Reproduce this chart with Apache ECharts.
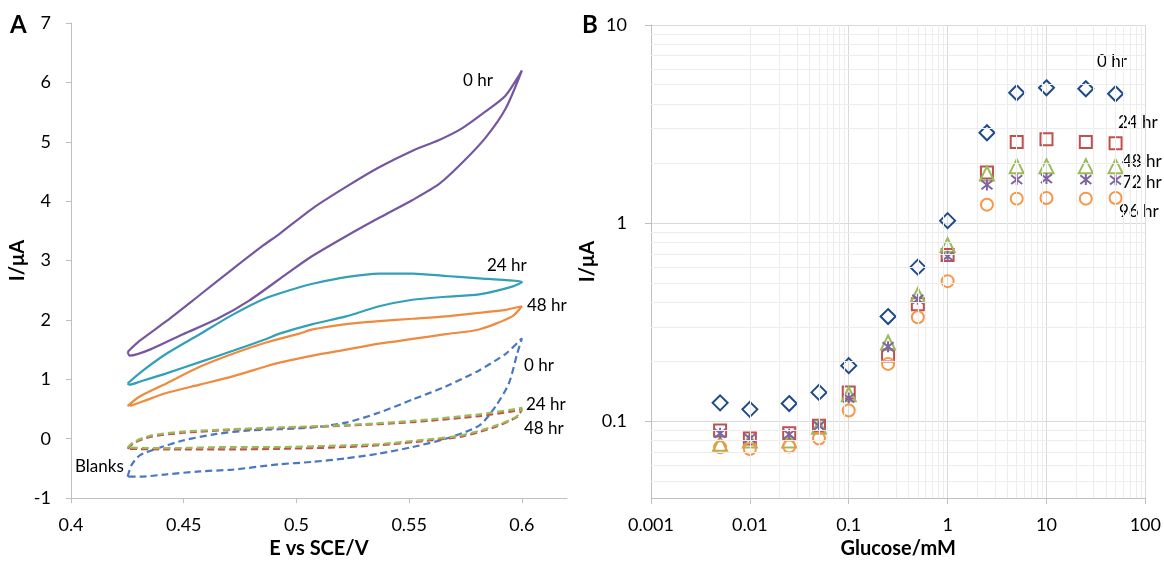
<!DOCTYPE html>
<html>
<head>
<meta charset="utf-8">
<script src="https://cdn.jsdelivr.net/npm/echarts@6/dist/echarts.min.js"></script>
<style>
  html, body { margin: 0; padding: 0; background: #fff; }
  #chart { width: 1164px; height: 564px; }
</style>
</head>
<body>
<div id="chart"></div>
<script>
// ---- panel A : cyclic voltammograms, [E (V), I (uA)] ----
var cv0hr = [[0.4251,1.46],[0.4305,1.65],[0.4423,1.98],[0.4571,2.42],[0.4718,2.86],[0.4851,3.25],[0.4925,3.45],[0.5072,3.88],[0.5220,4.24],[0.5367,4.57],[0.5515,4.85],[0.5633,5.03],[0.5736,5.23],[0.5839,5.51],[0.5928,5.78],[0.6000,6.20],
  [0.5928,5.56],[0.5839,5.07],[0.5736,4.65],[0.5633,4.29],[0.5515,4.02],[0.5367,3.72],[0.5220,3.41],[0.5072,3.08],[0.4969,2.81],[0.4792,2.33],[0.4645,2.01],[0.4497,1.76],[0.4350,1.50],[0.4261,1.40],[0.4251,1.46]];
var cv24hr = [[0.4251,0.93],[0.4320,1.15],[0.4423,1.43],[0.4571,1.76],[0.4718,2.09],[0.4866,2.37],[0.5013,2.55],[0.5072,2.61],[0.5220,2.72],[0.5367,2.78],[0.5515,2.78],[0.5662,2.74],[0.5810,2.70],[0.5928,2.67],[0.6000,2.64],
  [0.5957,2.56],[0.5810,2.43],[0.5662,2.39],[0.5515,2.34],[0.5367,2.23],[0.5220,2.06],[0.5072,1.93],[0.4925,1.77],[0.4866,1.68],[0.4718,1.48],[0.4571,1.29],[0.4423,1.10],[0.4305,0.96],[0.4261,0.91],[0.4251,0.93]];
var cv48hr = [[0.4251,0.55],[0.4305,0.71],[0.4423,0.93],[0.4571,1.21],[0.4718,1.43],[0.4866,1.62],[0.5013,1.77],[0.5072,1.84],[0.5220,1.93],[0.5367,1.98],[0.5515,2.02],[0.5662,2.06],[0.5810,2.12],[0.5928,2.17],[0.6000,2.23],
  [0.5957,2.06],[0.5810,1.84],[0.5662,1.76],[0.5515,1.68],[0.5367,1.60],[0.5220,1.50],[0.5072,1.40],[0.4925,1.28],[0.4866,1.22],[0.4718,1.05],[0.4571,0.91],[0.4423,0.77],[0.4320,0.63],[0.4261,0.55]];
var blank0hr = [[0.4251,-0.64],[0.4269,-0.44],[0.4305,-0.28],[0.4379,-0.17],[0.4497,-0.03],[0.4645,0.08],[0.4792,0.14],[0.4925,0.16],[0.5072,0.19],[0.5220,0.27],[0.5367,0.44],[0.5515,0.66],[0.5662,0.88],[0.5810,1.15],[0.5928,1.43],[0.6000,1.69],
  [0.5979,1.43],[0.5942,0.93],[0.5884,0.55],[0.5810,0.22],[0.5662,0.00],[0.5515,-0.14],[0.5367,-0.25],[0.5220,-0.33],[0.5072,-0.39],[0.4925,-0.43],[0.4718,-0.52],[0.4571,-0.55],[0.4423,-0.60],[0.4305,-0.64],[0.4251,-0.64]];
var blank24hr = [[0.4251,-0.17],[0.4276,-0.08],[0.4350,0.03],[0.4497,0.10],[0.4718,0.15],[0.4925,0.18],[0.5220,0.22],[0.5515,0.28],[0.5810,0.38],[0.5957,0.46],[0.6000,0.49],
  [0.5979,0.37],[0.5884,0.20],[0.5736,0.04],[0.5588,-0.03],[0.5367,-0.11],[0.5146,-0.15],[0.4925,-0.17],[0.4718,-0.18],[0.4423,-0.18],[0.4251,-0.17]];
var blank48hr = [[0.4251,-0.15],[0.4276,-0.06],[0.4350,0.05],[0.4497,0.12],[0.4718,0.16],[0.4925,0.19],[0.5220,0.23],[0.5515,0.30],[0.5810,0.41],[0.5957,0.49],[0.6000,0.52],
  [0.5979,0.38],[0.5884,0.22],[0.5736,0.06],[0.5588,-0.01],[0.5367,-0.09],[0.5146,-0.12],[0.4925,-0.14],[0.4718,-0.14],[0.4423,-0.16],[0.4251,-0.15]];

// ---- panel B : calibration, glucose (mM) vs I (uA) ----
var glucose = [0.005, 0.01, 0.025, 0.05, 0.1, 0.25, 0.5, 1, 2.5, 5, 10, 25, 50];
var i0hr  = [0.124, 0.115, 0.123, 0.140, 0.191, 0.338, 0.60, 1.03, 2.86, 4.55, 4.82, 4.77, 4.50];
var i24hr = [0.090, 0.082, 0.087, 0.095, 0.140, 0.215, 0.39, 0.69, 1.80, 2.57, 2.65, 2.57, 2.53];
var i48hr = [0.077, 0.080, 0.080, 0.094, 0.137, 0.250, 0.434, 0.775, 1.78, 1.94, 1.94, 1.94, 1.94];
var i72hr = [0.087, 0.082, 0.086, 0.095, 0.131, 0.238, 0.413, 0.68, 1.56, 1.66, 1.68, 1.66, 1.65];
var i96hr = [0.074, 0.0725, 0.0747, 0.082, 0.1135, 0.195, 0.335, 0.51, 1.24, 1.33, 1.34, 1.33, 1.34];

function pairs(xs, ys) {
  return xs.map(function (x, i) { return [x, ys[i]]; });
}

// light minor grid for the log panel (2..9 in each decade)
var minorX = [], minorY = [];
[0.001, 0.01, 0.1, 1, 10].forEach(function (d) {
  for (var k = 2; k <= 9; k++) minorX.push({ xAxis: +(k * d).toPrecision(3) });
});
[0.01, 0.1, 1].forEach(function (d) {
  for (var k = 2; k <= 9; k++) {
    var v = +(k * d).toPrecision(3);
    if (v > 0.041 && v < 10) minorY.push({ yAxis: v });
  }
});

var font = 'Lato, "Open Sans", sans-serif';
var axisGray = '#bfbfbf';

var myChart = echarts.init(document.getElementById('chart'));

function solid(name, data, color) {
  return {
    name: name, type: 'line', xAxisIndex: 0, yAxisIndex: 0,
    data: data, showSymbol: false, symbol: 'none', silent: true, smooth: 0.25,
    lineStyle: { color: color, width: 2.2 }
  };
}
function dashed(name, data, color) {
  return {
    name: name, type: 'line', xAxisIndex: 0, yAxisIndex: 0,
    data: data, showSymbol: false, symbol: 'none', silent: true, smooth: 0.25,
    lineStyle: { color: color, width: 2.2, type: [7, 4] }
  };
}
function dots(name, ys, symbol, size, color) {
  return {
    name: name, type: 'scatter', xAxisIndex: 1, yAxisIndex: 1, z: 3,
    data: pairs(glucose, ys), symbol: symbol, symbolSize: size,
    itemStyle: { color: 'rgba(0,0,0,0)', borderColor: color, borderWidth: 2, opacity: 1 }
  };
}

var hrText = function (text, x, y) {
  return { type: 'text', left: x, top: y - 10, style: { text: text, font: '17px ' + font, fill: '#000' } };
};

var option = {
  animation: false,
  backgroundColor: '#fff',
  textStyle: { fontFamily: font },
  grid: [
    { left: 71, top: 23, width: 496, height: 484 },
    { left: 651, top: 25, width: 495, height: 481 }
  ],
  xAxis: [
    {
      gridIndex: 0, type: 'value', min: 0.4, max: 0.62, interval: 0.05,
      name: 'E vs SCE/V', nameLocation: 'middle', nameGap: 34,
      nameTextStyle: { fontSize: 20, fontWeight: 'bold', color: '#000', fontFamily: font },
      axisLine: { onZero: false, lineStyle: { color: axisGray } },
      axisTick: { length: 5, lineStyle: { color: axisGray } },
      axisLabel: { fontSize: 18, color: '#000', margin: 18, showMaxLabel: false, fontFamily: font },
      splitLine: { show: false }
    },
    {
      gridIndex: 1, type: 'log', min: 0.001, max: 100, logBase: 10,
      name: 'Glucose/mM', nameLocation: 'middle', nameGap: 34,
      nameTextStyle: { fontSize: 20, fontWeight: 'bold', color: '#000', fontFamily: font },
      axisLine: { onZero: false, lineStyle: { color: axisGray } },
      axisTick: { length: 6, lineStyle: { color: axisGray } },
      axisLabel: { fontSize: 18, color: '#000', margin: 18, fontFamily: font },
      splitLine: { show: true, lineStyle: { color: '#d9d9d9' } }
    }
  ],
  yAxis: [
    {
      gridIndex: 0, type: 'value', min: -1, max: 7, interval: 1,
      name: 'I/μA', nameLocation: 'middle', nameGap: 43,
      nameTextStyle: { fontSize: 20, fontWeight: 'bold', color: '#000', fontFamily: font },
      axisLine: { show: true, onZero: false, lineStyle: { color: axisGray } },
      axisTick: { show: true, length: 5, lineStyle: { color: axisGray } },
      axisLabel: { fontSize: 18, color: '#000', margin: 20, fontFamily: font },
      splitLine: { show: false }
    },
    {
      gridIndex: 1, type: 'log', min: 0.041, max: 10, logBase: 10,
      name: 'I/μA', nameLocation: 'middle', nameGap: 46,
      nameTextStyle: { fontSize: 20, fontWeight: 'bold', color: '#000', fontFamily: font },
      axisLine: { show: true, onZero: false, lineStyle: { color: axisGray } },
      axisTick: { show: true, length: 6, lineStyle: { color: axisGray } },
      axisLabel: { fontSize: 18, color: '#000', margin: 24, showMinLabel: false, fontFamily: font },
      splitLine: { show: true, lineStyle: { color: '#d9d9d9' } }
    }
  ],
  series: [
    solid('0 hr', cv0hr, '#7557a0'),
    solid('24 hr', cv24hr, '#31a0b8'),
    solid('48 hr', cv48hr, '#f08a3e'),
    dashed('blank 0 hr', blank0hr, '#4a78c0'),
    dashed('blank 24 hr', blank24hr, '#c0504d'),
    dashed('blank 48 hr', blank48hr, '#9bbb59'),
    {
      name: 'minor grid', type: 'line', xAxisIndex: 1, yAxisIndex: 1, z: 1,
      data: [], silent: true,
      markLine: {
        silent: true, symbol: 'none', animation: false,
        label: { show: false },
        lineStyle: { color: '#ededed', width: 1, type: 'solid' },
        data: minorX.concat(minorY)
      }
    },
    dots('0 hr', i0hr, 'diamond', 15, '#1f4a87'),
    dots('24 hr', i24hr, 'rect', 12, '#c0504d'),
    dots('48 hr', i48hr, 'triangle', 14, '#9bbb59'),
    dots('72 hr', i72hr, 'path://M5,0 L5,10 M1,1 L9,9 M1,9 L9,1', [11, 11], '#8064a2'),
    dots('96 hr', i96hr, 'circle', 12, '#f79646')
  ],
  graphic: [
    { type: 'text', left: 10, top: 13, style: { text: 'A', font: 'bold 24px ' + font, fill: '#000' } },
    { type: 'text', left: 582, top: 13, style: { text: 'B', font: 'bold 24px ' + font, fill: '#000' } },
    hrText('0 hr', 463, 82),
    hrText('24 hr', 487, 267),
    hrText('48 hr', 527, 307),
    hrText('0 hr', 524, 367),
    hrText('24 hr', 526, 406),
    hrText('48 hr', 524, 430),
    hrText('Blanks', 75, 468),
    hrText('0 hr', 1097, 63),
    hrText('24 hr', 1118, 124),
    hrText('48 hr', 1122, 163),
    hrText('72 hr', 1122, 184),
    hrText('96 hr', 1119, 213)
  ]
};

window.addEventListener('resize', function () {
  myChart.resize();
});
myChart.setOption(option);
</script>
</body>
</html>
